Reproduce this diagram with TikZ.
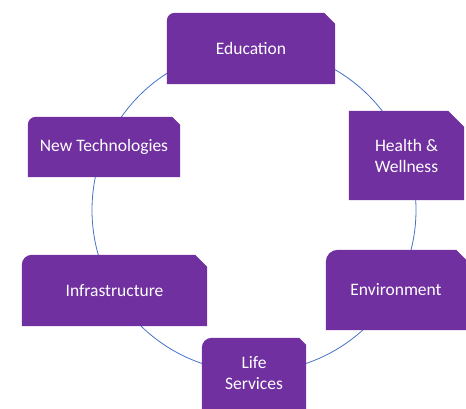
\documentclass[tikz,border=0pt]{standalone}
\usepackage{fontspec}
\setmainfont{Carlito}
\usetikzlibrary{backgrounds}

\definecolor{tabpurple}{RGB}{112,48,160}
\definecolor{ringblue}{RGB}{68,114,196}

% fill a tab behind node #1: top left corner rounded by #2, top right snipped by #3
\newcommand{\tabfill}[3]{%
	\fill [tabpurple] (#1.south west) -- ([yshift=-#2]#1.north west)
		arc [start angle = 180, end angle = 90, radius = #2]
		-- ([xshift=-#3]#1.north east) -- ([yshift=-#3]#1.north east)
		-- (#1.south east) -- cycle;}

\begin{document}
\begin{tikzpicture}[x = 1pt, y = -1pt,
								tab/.style = {inner sep = 0pt, text = white, align = center,
								font = \fontsize{17.5}{21}\selectfont},
								ring/.style = {draw = ringblue, line width = 0.8pt}]

				\useasboundingbox (0,0) rectangle (466,409);

				\coordinate (hub) at (254,210);

				\node [tab, minimum width = 168pt, minimum height = 71pt] (edu) at (251,48.5) {Education};
				\node [tab, minimum width = 115pt, minimum height = 89pt] (health) at (406.5,155.5) {Health \&\\Wellness};
				\node [tab, minimum width = 152pt, minimum height = 60pt] (newtech) at (104,147) {New Technologies};
				\node [tab, minimum width = 185pt, minimum height = 71pt] (infra) at (114.5,290.5) {Infrastructure};
				\node [tab, minimum width = 140pt, minimum height = 80pt] (env) at (396,290) {Environment};
				\node [tab, minimum width = 104pt, minimum height = 71pt] (life) at (254,373.5) {Life\\Services};

				\begin{scope}[on background layer]
					\draw [ring] (hub) circle [radius = 162pt];
					\tabfill{edu}{8pt}{11pt}
					\tabfill{health}{0.1pt}{16pt}
					\tabfill{newtech}{8pt}{8pt}
					\tabfill{infra}{10pt}{12pt}
					\tabfill{env}{12pt}{10pt}
					\tabfill{life}{10pt}{7pt}
				\end{scope}
			\end{tikzpicture}
\end{document}
